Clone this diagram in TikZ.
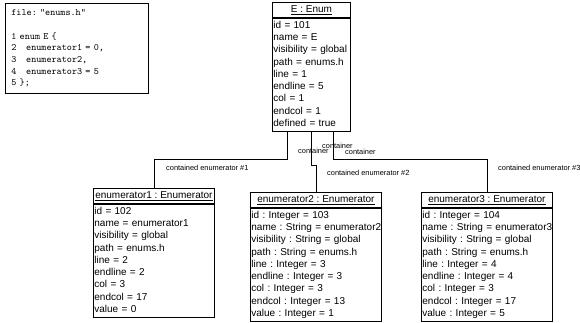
\documentclass[tikz,border=0pt]{standalone}
\usepackage{fontspec}
\setmainfont{Liberation Sans}
\usetikzlibrary{calc,positioning}
\frenchspacing
\tikzset{
  umlhead/.style = {draw, line width=0.8pt, anchor=north west, inner sep=0pt,
    minimum width=#1, minimum height=15pt, font=\fontsize{10}{12.25}\selectfont},
  umlattr/.style = {draw, line width=0.8pt, anchor=north west, align=left,
    inner xsep=1pt, inner ysep=1.5pt, text width=#1, font=\fontsize{10}{12.25}\selectfont,
    execute at begin node={\hyphenpenalty=10000}},
  role/.style = {anchor=west, inner sep=0pt, font=\fontsize{7.4}{9}\selectfont}
}
\tikzset{>=latex}

\begin{document}
\begin{tikzpicture}[x=1pt,y=-1pt]
  \tikzstyle{codebox}=[draw, line width=0.8pt, anchor=north west, align=left, inner xsep=6pt,
    minimum width=143pt, minimum height=90pt, text width=131pt, font=\ttfamily\fontsize{9.7}{11.7}\selectfont]
  \tikzstyle{link}=[line width=0.8pt]
  \useasboundingbox (0,0) rectangle (580,322);
  \node[codebox] (src) at (5,3) {file: "enums.h"\\ \mbox{}\\ 1 enum E \{\\ 2\ \ \ enumerator1 = 0,\\ 3\ \ \ enumerator2,\\ 4\ \ \ enumerator3 = 5\\ 5 \};};
  \node[umlhead=78pt] (ehead) at (272,2) {\underline{E : Enum}};
  \node[umlattr=76pt] (eattr) at (ehead.south west) {\strut id = 101\\ name = E\\ visibility = global\\ path = enums.h\\ line = 1\\ endline = 5\\ col = 1\\ endcol = 1\\ defined = true\strut};
  \node[umlhead=121pt] (en1head) at (93,188) {\underline{enumerator1 : Enumerator}};
  \node[umlattr=119pt] (en1attr) at (en1head.south west) {\strut id = 102\\ name = enumerator1\\ visibility = global\\ path = enums.h\\ line = 2\\ endline = 2\\ col = 3\\ endcol = 17\\ value = 0\strut};
  \node[umlhead=131pt] (en2head) at (250,192) {\underline{enumerator2 : Enumerator}};
  \node[umlattr=129pt] (en2attr) at (en2head.south west) {\strut id : Integer = 103\\ name~:~String~=~enumerator2\\ visibility : String = global\\ path : String = enums.h\\ line : Integer = 3\\ endline : Integer = 3\\ col : Integer = 3\\ endcol : Integer = 13\\ value : Integer = 1\strut};
  \node[umlhead=131pt] (en3head) at (421,192) {\underline{enumerator3 : Enumerator}};
  \node[umlattr=129pt] (en3attr) at (en3head.south west) {\strut id : Integer = 104\\ name~:~String~=~enumerator3\\ visibility : String = global\\ path : String = enums.h\\ line : Integer = 4\\ endline : Integer = 4\\ col : Integer = 3\\ endcol : Integer = 17\\ value : Integer = 5\strut};
  \coordinate (k1) at (0,159);
  \coordinate (k2) at (0,165);
  \draw[link] ([xshift=-24pt]eattr.south) |- (k1 -| en1head.north) -- (en1head.north);
  \draw[link] (eattr.south) |- (k2 -| en2head.north) -- (en2head.north);
  \draw[link] ([xshift=22pt]eattr.south) |- (k1 -| en3head.north) -- (en3head.north);
  \node[role] (c1) at (298,151) {container};
  \node[role] (c2) at (322,146) {container};
  \node[role] (c3) at (345,152) {container};
  \node[role] (r1) at (166,168) {contained enumerator \#1};
  \node[role] (r2) at (327,173) {contained enumerator \#2};
  \node[role] (r3) at (498,168) {contained enumerator \#3};
\end{tikzpicture}
\end{document}
